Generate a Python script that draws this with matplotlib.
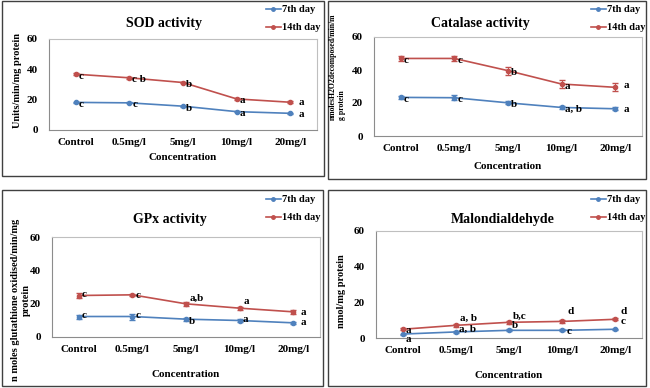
import matplotlib
matplotlib.use("Agg")
import matplotlib.pyplot as plt
from matplotlib.patches import Rectangle
from matplotlib.lines import Line2D

plt.rcParams["font.family"] = ["Liberation Serif", "DejaVu Serif"]
plt.rcParams["font.weight"] = "bold"

W, H = 650, 388

concentrations = ["Control", "0.5mg/l", "5mg/l", "10mg/l", "20mg/l"]

sod_7 = [18.2, 17.9, 15.7, 12.1, 11.0]
sod_14 = [36.8, 34.4, 31.3, 20.5, 18.3]
sod_err_7 = [0.4, 0.4, 0.4, 0.4, 0.4]
sod_err_14 = [0.5, 0.5, 0.5, 0.5, 0.5]
sod_lab_7 = ["c", "c", "b", "a", "a"]
sod_lab_14 = ["c", "c b", "b", "a", "a"]

cat_7 = [23.4, 23.2, 20.1, 17.3, 16.5]
cat_14 = [47.0, 47.0, 39.6, 31.5, 29.5]
cat_err_7 = [1.0, 1.5, 1.0, 1.0, 1.0]
cat_err_14 = [1.5, 1.5, 2.5, 2.5, 2.5]
cat_lab_7 = ["c", "c", "b", "a, b", "a"]
cat_lab_14 = ["c", "c", "b", "a", "a"]

gpx_7 = [12.3, 12.3, 10.7, 9.9, 8.5]
gpx_14 = [24.9, 25.3, 19.9, 17.3, 15.1]
gpx_err_7 = [1.2, 1.8, 0.8, 0.8, 0.8]
gpx_err_14 = [1.5, 0.6, 1.0, 1.0, 1.2]
gpx_lab_7 = ["c", "c", "b", "a", "a"]
gpx_lab_14 = ["c", "c", "a,b", "a", "a"]

mda_7 = [2.2, 3.4, 4.3, 4.3, 4.9]
mda_14 = [4.9, 7.1, 8.8, 9.3, 10.5]
mda_err_7 = [0.3, 0.5, 0.5, 0.5, 0.3]
mda_err_14 = [0.5, 0.8, 1.0, 1.0, 0.5]
mda_lab_7 = ["a", "a, b", "b", "c", "c"]
mda_lab_14 = ["a", "a, b", "b,c", "d", "d"]

blue = "#4f81bd"
red = "#c0504d"

fig = plt.figure(figsize=(W / 100, H / 100), dpi=100)


def fx(x):
    return x / W


def fy(y):
    return 1 - y / H


def box(x0, y0, x1, y1):
    fig.patches.append(Rectangle((fx(x0), fy(y1)), fx(x1 - x0), (y1 - y0) / H,
                                 transform=fig.transFigure, fill=False,
                                 edgecolor="#404040", lw=1.0))


def panel(rect, title, title_xy, d7, d14, e7, e14, l7, l14, off7, off14,
          ylabel, ylab_xy, ylab_kw, xpad, leg_xy):
    x0, y0, x1, y1 = rect
    ax = fig.add_axes([fx(x0), fy(y1), fx(x1 - x0), (y1 - y0) / H])
    x = range(len(concentrations))
    ax.errorbar(x, d7, yerr=e7, color=blue, marker="o", ms=3, lw=1.2,
                capsize=2, elinewidth=0.7)
    ax.errorbar(x, d14, yerr=e14, color=red, marker="o", ms=3, lw=1.2,
                capsize=2, elinewidth=0.7)
    for i in x:
        ax.annotate(l7[i], (i, d7[i]), xytext=off7[i], textcoords="offset pixels",
                    fontsize=8, fontweight="bold", va="center", ha="left")
        ax.annotate(l14[i], (i, d14[i]), xytext=off14[i], textcoords="offset pixels",
                    fontsize=8, fontweight="bold", va="center", ha="left")
    ax.set_xlim(-0.5, 4.5)
    ax.set_ylim(0, 60)
    ax.set_yticks([0, 20, 40, 60])
    ax.set_xticks(list(x))
    ax.set_xticklabels(concentrations)
    ax.tick_params(axis="x", length=0, pad=6, labelsize=8)
    ax.tick_params(axis="y", length=0, pad=8, labelsize=8)
    for s in ax.spines.values():
        s.set_color("#bfbfbf")
        s.set_linewidth(0.8)
    ax.spines["left"].set_color("#8c8c8c")
    ax.spines["bottom"].set_color("#8c8c8c")
    ax.set_xlabel("Concentration", fontsize=8, fontweight="bold", labelpad=xpad)
    fig.text(fx(title_xy[0]), fy(title_xy[1]), title, fontsize=10,
             fontweight="bold", ha="center", va="center")
    fig.text(fx(ylab_xy[0]), fy(ylab_xy[1]), ylabel, fontweight="bold",
             rotation=90, **ylab_kw)
    handles = [Line2D([], [], color=blue, marker="o", ms=2.5, lw=1.2),
               Line2D([], [], color=red, marker="o", ms=2.5, lw=1.2)]
    ax.legend(handles, ["7th day", "14th day"], loc="upper left",
              bbox_to_anchor=(fx(leg_xy[0]), fy(leg_xy[1])),
              bbox_transform=fig.transFigure, frameon=False, fontsize=7.5,
              handlelength=1.4, handletextpad=0.15, labelspacing=0.85,
              borderpad=0, borderaxespad=0)
    return ax


d = (3, -2)
box(2, 1, 324, 176)
panel((49, 39, 317, 130), "SOD activity", (164, 23), sod_7, sod_14,
      sod_err_7, sod_err_14, sod_lab_7, sod_lab_14,
      [d, d, d, d, (8, -1)], [d, d, d, d, (8, 0)],
      "Units/min/mg protein", (18, 80),
      dict(ha="center", va="center", fontsize=7.5), 4, (266, 5))

box(328, 1, 646, 179)
panel((374, 37, 642, 136), "Catalase activity", (480, 24), cat_7, cat_14,
      cat_err_7, cat_err_14, cat_lab_7, cat_lab_14,
      [d, d, d, d, (8, -1)], [d, d, d, d, (8, 2)],
      "nmolesH2O2decomposed/min/m\ng protein", (337, 120),
      dict(ha="center", va="bottom", multialignment="left", fontsize=5.6),
      6, (591, 5))

box(2, 190, 323, 386)
panel((52, 237, 320, 337), "GPx activity", (170, 219), gpx_7, gpx_14,
      gpx_err_7, gpx_err_14, gpx_lab_7, gpx_lab_14,
      [(3, 1), (3, 1), (3, -2), (3, 1), (7, 0)],
      [(3, 1), (3, -1), (4, 6), (4, 7), (7, -1)],
      "n moles glutathione oxidised/min/mg\nprotein", (21, 300),
      dict(ha="center", va="center", fontsize=7.5), 11, (266, 195))

box(328, 190, 646, 386)
panel((376, 231, 642, 338), "Malondialdehyde", (503, 219), mda_7, mda_14,
      mda_err_7, mda_err_14, mda_lab_7, mda_lab_14,
      [(3, -5), (3, 3), (3, 5), (4, -1), (5, 8)],
      [(3, -1), (4, 7), (4, 6), (5, 10), (5, 8)],
      "nmol/mg protein", (342, 291),
      dict(ha="center", va="center", fontsize=7.5), 11, (591, 195))

fig.savefig("out.png", dpi=100)
